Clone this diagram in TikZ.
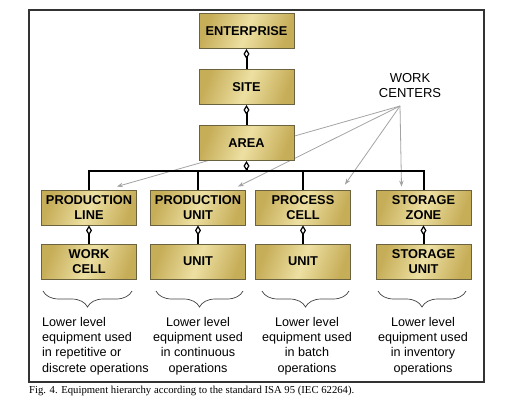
\documentclass[tikz,border=0pt]{standalone}
\usepackage{fontspec}
\setmainfont{Liberation Sans}
\newfontfamily\capfont{Liberation Serif}
\usetikzlibrary{arrows.meta,decorations.pathreplacing,backgrounds}
\definecolor{goldDark}{HTML}{C6AD58}
\definecolor{goldLight}{HTML}{EDE0A2}
\definecolor{boxLine}{HTML}{6B6240}
\definecolor{wcGray}{HTML}{A3A3A3}
\tikzset{
box/.style={draw=boxLine, line width=0.9pt,
            left color=goldDark, right color=goldDark, middle color=goldLight,
            shading angle=70,
            minimum width=95pt, minimum height=35pt, inner sep=0pt,
            align=center, font=\fontsize{12.8}{15.5}\selectfont\bfseries},
agg/.style={line width=2pt,
            {Diamond[fill=white,length=10pt,width=6pt,line width=1.2pt]}-},
bus/.style={line width=2pt},
wcarrow/.style={draw=wcGray, line width=0.8pt,
            -{Stealth[length=6pt,width=4.5pt]}},
brc/.style={decorate, decoration={brace, mirror, amplitude=16pt},
            draw=black!75, line width=0.7pt},
note/.style={inner sep=0pt, font=\fontsize{12.6}{15.3}\selectfont}
}
\begin{document}
\begin{tikzpicture}[x=1pt,y=-1pt]
  \useasboundingbox (0,0) rectangle (516,407);
  \draw[black!80, line width=1.2pt] (29,10) rectangle (484,382);

  % hierarchy
  \node[box] (ent)  at (246.5,31)  {ENTERPRISE};
  \node[box] (site) at (246.5,87)  {SITE};
  \node[box] (area) at (246.5,143) {AREA};
  \coordinate (bus) at (0,171);

  \node[box] (pline) at (89,207.5)   {PRODUCTION\\LINE};
  \node[box] (punit) at (198,207.5)  {PRODUCTION\\UNIT};
  \node[box] (pcell) at (303,207.5)  {PROCESS\\CELL};
  \node[box] (szone) at (423.5,207.5){STORAGE\\ZONE};

  \node[box] (wcell) at (89,261.5)   {WORK\\CELL};
  \node[box] (unitA) at (198,261.5)  {UNIT};
  \node[box] (unitB) at (303,261.5)  {UNIT};
  \node[box] (sunit) at (423.5,261.5){STORAGE\\UNIT};

  \draw[agg] (ent) -- (site);
  \draw[agg] (site) -- (area);
  \draw[agg] (area) -- (area |- bus);
  \draw[bus] (pline) -- (pline |- bus) -- (szone |- bus) -- (szone);
  \draw[bus] (punit) -- (punit |- bus);
  \draw[bus] (pcell) -- (pcell |- bus);
  \foreach \u/\l in {pline/wcell,punit/unitA,pcell/unitB,szone/sunit}
    \draw[agg] (\u) -- (\l);

  % work centers
  \node[note, align=center, font=\fontsize{13}{15}\selectfont] (wc) at (410,85.5) {WORK\\CENTERS};
  \coordinate (wcs) at (400,106);
  \begin{pgfonlayer}{background}
    \draw[wcarrow] (wcs) -- ([xshift=-20pt,yshift=3pt]pline.north east);
    \draw[wcarrow] (wcs) -- ([xshift=-8pt,yshift=3pt]punit.north east);
    \draw[wcarrow] (wcs) -- ([xshift=-6pt,yshift=5pt]pcell.north east);
    \draw[wcarrow] (wcs) -- ([xshift=-22pt,yshift=3pt]szone.north);
  \end{pgfonlayer}

  % braces and notes
  \foreach \a/\b in {43/132,156/243,262/349,378/466}
    \draw[brc] (\a,291) -- (\b,291);
  \node[note, align=left, anchor=north west] (nA) at (42,317)
    {Lower level\\equipment used\\in repetitive or\\discrete operations};
  \node[note, align=center, anchor=north] (nB) at (198,317)
    {Lower level\\equipment used\\in continuous\\operations};
  \node[note, align=center, anchor=north] (nC) at (307,317)
    {Lower level\\equipment used\\in batch\\operations};
  \node[note, align=center, anchor=north] (nD) at (423,317)
    {Lower level\\equipment used\\in inventory\\operations};

  \node[anchor=west, inner sep=0pt, font=\capfont\fontsize{10.7}{12}\selectfont] (cap) at (29,391)
    {Fig. 4. Equipment hierarchy according to the standard ISA 95 (IEC 62264).};
\end{tikzpicture}
\end{document}
